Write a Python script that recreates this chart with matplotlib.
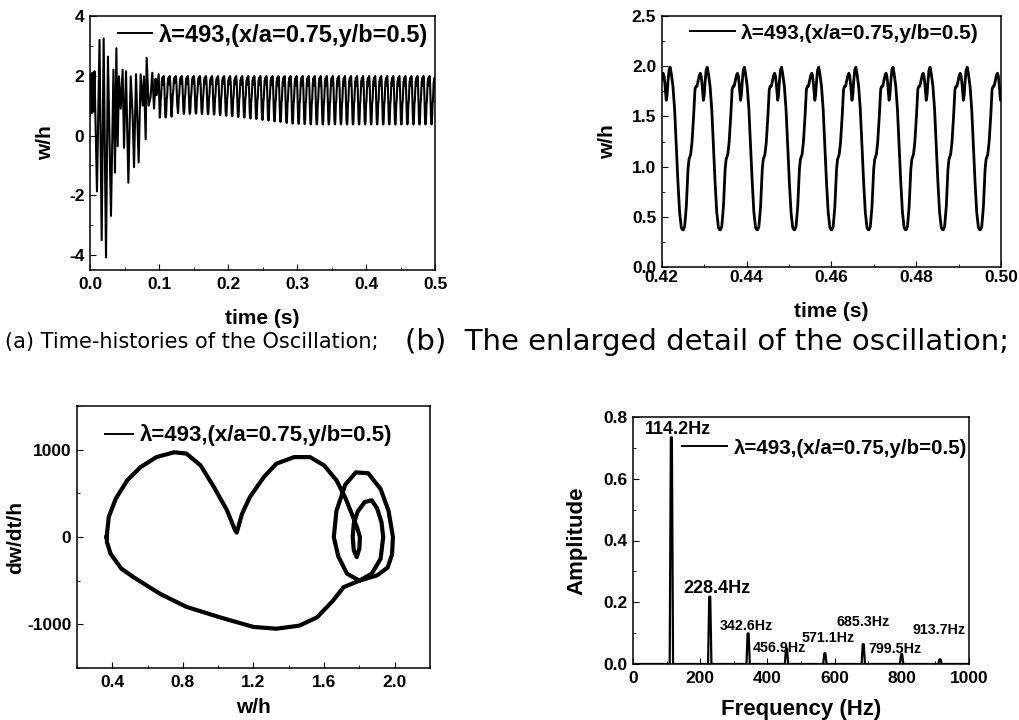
import numpy as np
import matplotlib.pyplot as plt
from matplotlib.ticker import MultipleLocator

# ---- one steady-state cycle of w/h, starting at the trough (phase 0..1)
cycle_phase = [0.0, 0.036, 0.081, 0.105, 0.126, 0.153, 0.198, 0.234, 0.279, 0.315,
               0.342, 0.369, 0.405, 0.432, 0.459, 0.482, 0.505, 0.541, 0.563, 0.586,
               0.615, 0.645, 0.675, 0.721, 0.766, 0.811, 0.856, 0.901, 0.946, 0.973]
cycle_w = [0.367, 0.40, 0.60, 0.80, 0.97, 1.07, 1.12, 1.24, 1.51, 1.77,
           1.80, 1.80, 1.86, 1.91, 1.93, 1.90, 1.82, 1.66, 1.71, 1.84,
           1.96, 1.99, 1.93, 1.80, 1.57, 1.20, 0.84, 0.54, 0.39, 0.37]
cycle_top = 1.99
base_freq = 114.2          # Hz
first_trough = 0.1011      # s, first trough of the settled response

# trough level of every settled cycle (t >= first_trough)
cycle_troughs = [0.60, 0.63, 0.90, 0.75, 0.72, 0.74, 0.73, 0.72, 0.71, 0.70,
                 0.68, 0.66, 0.64, 0.62, 0.60, 0.57, 0.55, 0.52, 0.50, 0.47,
                 0.45, 0.42, 0.40, 0.39, 0.38, 0.37, 0.37, 0.37, 0.37, 0.37,
                 0.37, 0.37, 0.37, 0.37, 0.37, 0.37, 0.37, 0.37, 0.37, 0.37,
                 0.37, 0.37, 0.37, 0.37, 0.37, 0.37]

# start-up transient, turning points (time in s, w/h)
trans_t = [0.000, 0.001, 0.0025, 0.0035, 0.005, 0.0065, 0.0101, 0.0138, 0.0169, 0.0198,
           0.0232, 0.0260, 0.0304, 0.0340, 0.0362, 0.0382, 0.0401, 0.0420, 0.0445, 0.0473,
           0.0493, 0.0522, 0.0556, 0.0590, 0.0618, 0.0638, 0.0667, 0.0705, 0.0734, 0.0763,
           0.0782, 0.0807, 0.0821, 0.0850, 0.0879, 0.0903, 0.0928, 0.0950, 0.0966, 0.0995]
trans_w = [0.70, 2.05, 0.75, 2.10, 0.80, 2.15, -1.87, 3.20, -3.50, 3.25,
           -4.08, 2.64, -2.69, 2.20, -1.24, 2.92, -0.36, 1.98, 0.90, 2.20,
           -0.41, 2.15, -1.58, 1.98, 0.66, -1.06, 2.05, -0.90, 2.05, 1.00,
           1.98, -0.13, 2.60, 1.00, 1.30, 2.10, 0.90, 1.90, 1.35, 2.05]

# phase portrait, one loop (w/h, dw/dt/h)
phase_w = [0.368, 0.38, 0.42, 0.485, 0.56, 0.65, 0.75, 0.82, 0.90, 0.975,
           1.05, 1.095, 1.105, 1.135, 1.18, 1.26, 1.33, 1.43, 1.52, 1.60,
           1.67, 1.72, 1.76, 1.79, 1.803, 1.80, 1.785, 1.768, 1.762, 1.768,
           1.79, 1.83, 1.87, 1.90, 1.925, 1.935, 1.92, 1.87, 1.80, 1.73,
           1.68, 1.655, 1.67, 1.72, 1.78, 1.85, 1.92, 1.965, 1.99, 1.985,
           1.96, 1.90, 1.80, 1.71, 1.65, 1.56, 1.46, 1.33, 1.20, 1.01,
           0.82, 0.67, 0.52, 0.45, 0.39, 0.37, 0.368]
phase_v = [0, 230, 440, 650, 800, 915, 970, 955, 820, 575,
           305, 80, 50, 265, 460, 690, 840, 915, 915, 820,
           650, 450, 250, 90, 0, -130, -230, -150, 0, 150,
           290, 400, 420, 330, 170, 0, -250, -420, -500, -420,
           -220, 0, 300, 600, 740, 730, 550, 300, 0, -200,
           -350, -440, -500, -575, -730, -920, -1015, -1050, -1030, -920,
           -800, -650, -460, -360, -190, -60, 0]

# FFT peaks
peak_freq = [114.2, 228.4, 342.6, 456.9, 571.1, 685.3, 799.5, 913.7]
peak_amp = [0.734, 0.218, 0.099, 0.050, 0.035, 0.064, 0.032, 0.015]
peak_labels = ['114.2Hz', '228.4Hz', '342.6Hz', '456.9Hz', '571.1Hz',
               '685.3Hz', '799.5Hz', '913.7Hz']

legend_text = 'λ=493,(x/a=0.75,y/b=0.5)'

# build the time history
period = 1.0 / base_freq
ph = np.array(cycle_phase)
cw = np.array(cycle_w)
t_steady, w_steady = [], []
for k, tr in enumerate(cycle_troughs):
    scale = (cycle_top - tr) / (cycle_top - cycle_w[0])
    t_steady.append(first_trough + (k + ph) * period)
    w_steady.append(cycle_top - (cycle_top - cw) * scale)
t_all = np.concatenate([np.array(trans_t)] + t_steady)
w_all = np.concatenate([np.array(trans_w)] + w_steady)

plt.rcParams['font.family'] = 'Liberation Sans'
plt.rcParams['font.weight'] = 'bold'
plt.rcParams['axes.labelweight'] = 'bold'
plt.rcParams['axes.unicode_minus'] = False
plt.rcParams['axes.linewidth'] = 1.1
plt.rcParams['xtick.direction'] = 'in'
plt.rcParams['ytick.direction'] = 'in'
plt.rcParams['xtick.major.size'] = 4
plt.rcParams['ytick.major.size'] = 4
plt.rcParams['xtick.minor.size'] = 2.5
plt.rcParams['ytick.minor.size'] = 2.5
plt.rcParams['xtick.major.pad'] = 5
plt.rcParams['ytick.major.pad'] = 4

fig = plt.figure(figsize=(10.19, 7.2), dpi=100)
W, H = 1019.0, 720.0


def add_axes(left, top, right, bottom):
    return fig.add_axes([left / W, 1 - bottom / H, (right - left) / W, (bottom - top) / H])


def add_legend(ax, x, y, size, hlen):
    leg = ax.legend(loc='center left', bbox_to_anchor=(x, y), frameon=False,
                    handlelength=hlen, handletextpad=0.3, borderpad=0,
                    borderaxespad=0, prop=dict(weight='bold', size=size))
    for ln in leg.get_lines():
        ln.set_linewidth(1.4)
    return leg


TICK = 12.5
LAB = 15

# (a) full time history
ax1 = add_axes(90, 16, 435, 270)
ax1.plot(t_all, w_all, color='black', lw=1.5, label=legend_text)
ax1.set_xlim(0, 0.5)
ax1.set_ylim(-4.5, 4)
ax1.xaxis.set_major_locator(MultipleLocator(0.1))
ax1.xaxis.set_minor_locator(MultipleLocator(0.05))
ax1.yaxis.set_minor_locator(MultipleLocator(1))
ax1.set_yticks([-4, -2, 0, 2, 4])
ax1.set_xlabel('time (s)', fontsize=LAB)
ax1.set_ylabel('w/h', fontsize=LAB)
ax1.xaxis.set_label_coords(0.5, -0.154)
ax1.yaxis.set_label_coords(-0.101, 0.5)
ax1.tick_params(labelsize=TICK)
add_legend(ax1, 0.081, 0.925, 17, 1.45)

# (b) enlarged detail
ax2 = add_axes(661.7, 16, 1001, 267)
ax2.plot(t_all, w_all, color='black', lw=2.0, label=legend_text)
ax2.set_xlim(0.42, 0.50)
ax2.set_ylim(0, 2.5)
ax2.xaxis.set_major_locator(MultipleLocator(0.02))
ax2.xaxis.set_minor_locator(MultipleLocator(0.01))
ax2.yaxis.set_major_locator(MultipleLocator(0.5))
ax2.yaxis.set_minor_locator(MultipleLocator(0.25))
ax2.xaxis.set_major_formatter(plt.FormatStrFormatter('%.2f'))
ax2.yaxis.set_major_formatter(plt.FormatStrFormatter('%.1f'))
ax2.set_xlabel('time (s)', fontsize=LAB)
ax2.set_ylabel('w/h', fontsize=LAB)
ax2.xaxis.set_label_coords(0.5, -0.139)
ax2.yaxis.set_label_coords(-0.132, 0.5)
ax2.tick_params(labelsize=TICK)
ax2.tick_params(axis='x', pad=2)
add_legend(ax2, 0.083, 0.932, 15, 2.15)

# (c) phase portrait
ax3 = add_axes(77, 406, 430, 668)
ax3.plot(phase_w, phase_v, color='black', lw=3.0, label=legend_text)
ax3.set_xlim(0.2, 2.2)
ax3.set_ylim(-1500, 1500)
ax3.set_xticks([0.4, 0.8, 1.2, 1.6, 2.0])
ax3.xaxis.set_minor_locator(MultipleLocator(0.2))
ax3.set_yticks([-1000, 0, 1000])
ax3.yaxis.set_minor_locator(MultipleLocator(500))
ax3.set_xlabel('w/h', fontsize=LAB)
ax3.set_ylabel('dw/dt/h', fontsize=LAB)
ax3.xaxis.set_label_coords(0.5, -0.115)
ax3.yaxis.set_label_coords(-0.147, 0.5)
ax3.tick_params(labelsize=TICK)
add_legend(ax3, 0.079, 0.888, 16, 1.27)

# (d) amplitude spectrum
spec_f = [0.0]
spec_a = [0.0]
for f, a in zip(peak_freq, peak_amp):
    spec_f += [f - 5, f - 1.5, f + 1.5, f + 5]
    spec_a += [0.0, a, a, 0.0]
spec_f.append(1000.0)
spec_a.append(0.0)

ax4 = add_axes(633, 417, 969, 664)
ax4.plot(spec_f, spec_a, color='black', lw=1.6, label=legend_text)
ax4.set_xlim(0, 1000)
ax4.set_ylim(0, 0.8)
ax4.xaxis.set_major_locator(MultipleLocator(200))
ax4.xaxis.set_minor_locator(MultipleLocator(100))
ax4.yaxis.set_major_locator(MultipleLocator(0.2))
ax4.yaxis.set_minor_locator(MultipleLocator(0.1))
ax4.yaxis.set_major_formatter(plt.FormatStrFormatter('%.1f'))
ax4.set_xlabel('Frequency (Hz)', fontsize=16)
ax4.set_ylabel('Amplitude', fontsize=16)
ax4.xaxis.set_label_coords(0.5, -0.142)
ax4.yaxis.set_label_coords(-0.137, 0.5)
ax4.tick_params(labelsize=TICK)
add_legend(ax4, 0.146, 0.874, 14.8, 2.2)

label_pos = [(133, 0.758), (249, 0.243), (338, 0.124), (437, 0.051),
             (581, 0.085), (685, 0.137), (780, 0.049), (910, 0.110)]
for i, (txt, (lx, ly)) in enumerate(zip(peak_labels, label_pos)):
    ax4.text(lx, ly, txt, ha='center', va='center',
             fontsize=13 if i < 2 else 10.3, fontweight='bold')

# captions under the upper panels, sized to their column width
cap_a = fig.text(5 / W, 1 - 342 / H, '(a) Time-histories of the Oscillation;',
                 family='DejaVu Sans', fontweight='normal', fontsize=15, va='center')
cap_b = fig.text(405 / W, 1 - 342 / H, '(b)  The enlarged detail of the oscillation;',
                 family='DejaVu Sans', fontweight='normal', fontsize=15, va='center')
fig.canvas.draw()
renderer = fig.canvas.get_renderer()
for cap, width in [(cap_a, 375), (cap_b, 605)]:
    cur = cap.get_window_extent(renderer).width
    cap.set_fontsize(cap.get_fontsize() * width / cur)

fig.savefig('out.png', dpi=100)
